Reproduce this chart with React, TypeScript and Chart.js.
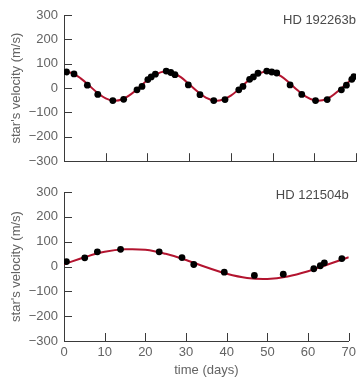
import React, { useEffect, useRef } from "react";
import { Chart, registerables } from "chart.js";

Chart.register(...registerables);

// ---- Data ----
const xTickValues = [0, 10, 20, 30, 40, 50, 60, 70];
const yTickValues = [-300, -200, -100, 0, 100, 200, 300];

const topTitle = "HD 192263b";
const topDays = [0.6, 2.4, 5.6, 8.1, 11.7, 14.3, 17.5, 18.7, 20.1, 20.9, 21.9, 24.5, 25.6, 26.6, 29.8, 32.6, 35.9, 38.6, 41.9, 42.9, 44.5, 45.4, 46.5, 48.6, 49.8, 51.0, 54.2, 57.0, 60.3, 63.1, 66.5, 67.7, 69.0, 69.5];
const topVelocity = [66, 58, 12, -26, -51, -46, -7, 7, 35, 46, 57, 70, 64, 55, 13, -27, -51, -47, -7, 7, 36, 46, 61, 70, 66, 62, 13, -26, -51, -47, -7, 12, 36, 47];
const topCurveDays = [0, 2, 4, 6, 8, 10, 12, 14, 16, 18, 20, 22, 24, 26, 28, 30, 32, 34, 36, 38, 40, 42, 44, 46, 48, 50, 52, 54, 56, 58, 60, 62, 64, 66, 68, 70];
const topCurveVelocity = [68, 61, 40, 11, -19, -42, -52, -46, -26, 2, 33, 56, 68, 63, 45, 16, -14, -39, -51, -48, -31, -3, 28, 53, 67, 65, 49, 22, -9, -35, -50, -50, -35, -8, 22, 49];

const bottomTitle = "HD 121504b";
const bottomDays = [0.6, 5.1, 8.2, 13.9, 23.4, 29.0, 31.9, 39.4, 46.8, 53.9, 61.4, 63.0, 64.0, 68.3];
const bottomVelocity = [20, 35, 59, 69, 59, 36, 8, -23, -36, -31, -9, 3, 15, 32];
const bottomCurveDays = [0, 5, 10, 15, 20, 25, 30, 35, 40, 45, 50, 55, 60, 65, 70];
const bottomCurveVelocity = [9, 37, 59, 69, 67, 51, 26, -3, -29, -46, -50, -40, -19, 9, 37];

const yAxisTitle = "star's velocity (m/s)";
const xAxisTitle = "time (days)";

// ---- Styles ----
const FONT = "'Liberation Sans', Arial, Helvetica, sans-serif";
const TEXT = "#636363";
const AXIS = "#3a3a3a";
const RED = "#b3142f";

const inwardTicks = {
  id: "inwardTicks",
  afterDraw(chart: any) {
    const { ctx, chartArea, scales } = chart;
    ctx.save();
    ctx.strokeStyle = AXIS;
    ctx.lineWidth = 1;
    ctx.beginPath();
    const xs = scales.x;
    for (const v of xTickValues) {
      const px = Math.round(xs.getPixelForValue(v)) + 0.5;
      ctx.moveTo(px, chartArea.bottom);
      ctx.lineTo(px, chartArea.bottom - 8);
    }
    const ys = scales.y;
    for (const v of yTickValues) {
      const py = Math.round(ys.getPixelForValue(v)) + 0.5;
      ctx.moveTo(chartArea.left, py);
      ctx.lineTo(chartArea.left + 8, py);
    }
    ctx.stroke();
    ctx.restore();
  },
};

const cornerLabel = {
  id: "cornerLabel",
  afterDraw(chart: any, _args: any, opts: any) {
    const { ctx, chartArea } = chart;
    ctx.save();
    ctx.font = `13px ${FONT}`;
    ctx.fillStyle = "#4a4a4a";
    ctx.textAlign = "right";
    ctx.textBaseline = "alphabetic";
    ctx.fillText(opts.text, chartArea.right, chartArea.top + opts.offset);
    ctx.restore();
  },
};

function makeConfig(
  days: number[],
  vel: number[],
  curveDays: number[],
  curveVel: number[],
  label: string,
  isBottom: boolean
): any {
  return {
    type: "scatter",
    data: {
      datasets: [
        {
          label: "observed",
          data: days.map((d, i) => ({ x: d, y: vel[i] })),
          backgroundColor: "#000000",
          borderColor: "#000000",
          pointRadius: 3.4,
          pointBorderWidth: 0,
          order: 0,
        },
        {
          label: "fit",
          data: curveDays.map((d, i) => ({ x: d, y: curveVel[i] })),
          showLine: true,
          borderColor: RED,
          borderWidth: 2,
          pointRadius: 0,
          tension: 0.4,
          order: 1,
        },
      ],
    },
    options: {
      responsive: false,
      animation: false,
      devicePixelRatio: 1,
      layout: { padding: { top: isBottom ? 17 : 15, right: 2, left: 0, bottom: 0 } },
      plugins: {
        legend: { display: false },
        tooltip: { enabled: false },
        cornerLabel: { text: label, offset: isBottom ? 7 : 8.5 },
      },
      scales: {
        x: {
          type: "linear",
          min: 0,
          max: 70,
          afterFit: (s: any) => {
            s.height = isBottom ? 38 : 12;
          },
          afterBuildTicks: (s: any) => {
            s.ticks = xTickValues.map((v) => ({ value: v }));
          },
          ticks: {
            display: isBottom,
            padding: 4,
            color: TEXT,
            font: { family: FONT, size: 13 },
            maxRotation: 0,
          },
          grid: { display: false, drawTicks: false },
          border: { display: true, color: AXIS, width: 1 },
          title: {
            display: isBottom,
            text: xAxisTitle,
            color: TEXT,
            font: { family: FONT, size: 13 },
            padding: { top: 0, bottom: 1 },
          },
        },
        y: {
          type: "linear",
          min: -300,
          max: 300,
          afterFit: (s: any) => {
            s.width = 64;
          },
          afterBuildTicks: (s: any) => {
            s.ticks = yTickValues.map((v) => ({ value: v }));
          },
          ticks: {
            padding: 6,
            color: TEXT,
            font: { family: FONT, size: 13 },
            callback: (v: any) => (Number(v) < 0 ? "\u2212" + Math.abs(Number(v)) : String(v)),
          },
          grid: { display: false, drawTicks: false },
          border: { display: true, color: AXIS, width: 1 },
          title: {
            display: true,
            text: yAxisTitle,
            color: TEXT,
            font: { family: FONT, size: 13 },
            padding: { top: 9, bottom: 0 },
          },
        },
      },
    },
    plugins: [inwardTicks, cornerLabel],
  };
}

export default function App() {
  const topRef = useRef<HTMLCanvasElement | null>(null);
  const bottomRef = useRef<HTMLCanvasElement | null>(null);

  useEffect(() => {
    const c1 = new Chart(
      topRef.current as HTMLCanvasElement,
      makeConfig(topDays, topVelocity, topCurveDays, topCurveVelocity, topTitle, false)
    );
    const c2 = new Chart(
      bottomRef.current as HTMLCanvasElement,
      makeConfig(bottomDays, bottomVelocity, bottomCurveDays, bottomCurveVelocity, bottomTitle, true)
    );
    return () => {
      c1.destroy();
      c2.destroy();
    };
  }, []);

  return (
    <div style={{ position: "absolute", left: 0, top: 0, width: 360, height: 379, background: "#ffffff" }}>
      <canvas
        ref={topRef}
        width={360}
        height={175}
        style={{ position: "absolute", left: 0, top: 0, width: 360, height: 175, display: "block" }}
      />
      <canvas
        ref={bottomRef}
        width={360}
        height={204}
        style={{ position: "absolute", left: 0, top: 175, width: 360, height: 204, display: "block" }}
      />
    </div>
  );
}
